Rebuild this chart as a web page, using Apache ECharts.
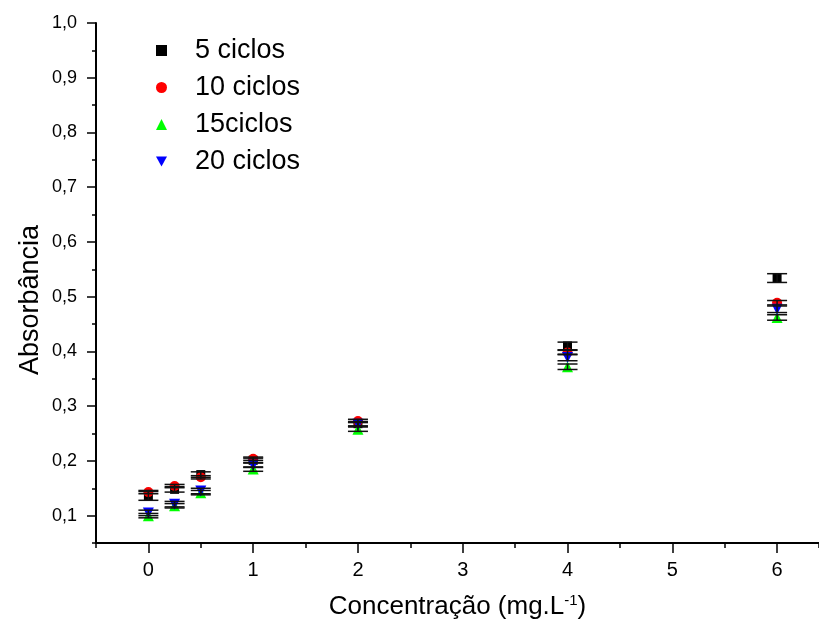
<!DOCTYPE html>
<html>
<head>
<meta charset="utf-8">
<script src="https://cdn.jsdelivr.net/npm/echarts@6/dist/echarts.min.js"></script>
<style>
  html, body { margin: 0; padding: 0; background: #fff; }
  #chart { width: 819px; height: 633px; }
</style>
</head>
<body>
<div id="chart"></div>
<script>
// concentration (mg/L) and absorbance readings
const conc = [0, 0.25, 0.5, 1, 2, 4, 6];
const abs5 = [0.136, 0.148, 0.175, 0.201, 0.268, 0.410, 0.534];
const abs10 = [0.143, 0.154, 0.170, 0.204, 0.273, 0.398, 0.489];
const abs15 = [0.100, 0.118, 0.142, 0.185, 0.258, 0.372, 0.462];
const abs20 = [0.105, 0.121, 0.145, 0.192, 0.267, 0.389, 0.477];
// error (+/-)
const err5 = [0.008, 0.005, 0.005, 0.004, 0.004, 0.007, 0.008];
const err10 = [0.003, 0.003, 0.003, 0.003, 0.003, 0.004, 0.004];
const err15 = [0.004, 0.004, 0.004, 0.004, 0.004, 0.005, 0.005];
const err20 = [0.005, 0.005, 0.005, 0.004, 0.004, 0.006, 0.006];

const xTicks = [0, 1, 2, 3, 4, 5, 6];
const yTicks = [0.1, 0.2, 0.3, 0.4, 0.5, 0.6, 0.7, 0.8, 0.9, 1.0];
const names = ['5 ciclos', '10 ciclos', '15ciclos', '20 ciclos'];

const chart = echarts.init(document.getElementById('chart'));

function pts(ys) {
  return conc.map((x, i) => [x, ys[i]]);
}
function errPts(ys, es) {
  return conc.map((x, i) => [x, ys[i] - es[i], ys[i] + es[i]]);
}

function errSeries(ys, es) {
  return {
    type: 'custom',
    silent: true,
    z: 10,
    data: errPts(ys, es),
    renderItem: function (params, api) {
      const x = api.value(0);
      const lo = api.coord([x, api.value(1)]);
      const hi = api.coord([x, api.value(2)]);
      const hw = 10;
      const st = { stroke: '#111', lineWidth: 1.5 };
      return {
        type: 'group',
        children: [
          { type: 'line', shape: { x1: lo[0], y1: lo[1], x2: hi[0], y2: hi[1] }, style: st },
          { type: 'line', shape: { x1: lo[0] - hw, y1: lo[1], x2: lo[0] + hw, y2: lo[1] }, style: st },
          { type: 'line', shape: { x1: hi[0] - hw, y1: hi[1], x2: hi[0] + hw, y2: hi[1] }, style: st }
        ]
      };
    }
  };
}

const fmtY = v => v.toFixed(1).replace('.', ',');

const option = {
  backgroundColor: '#ffffff',
  animation: false,
  grid: { left: 96, top: 23, right: -2, bottom: 90 },
  legend: {
    orient: 'vertical',
    left: 151,
    top: 32,
    itemWidth: 11,
    itemHeight: 11,
    itemGap: 10,
    data: names,
    textStyle: { fontFamily: 'Liberation Sans', fontSize: 27, color: '#000', padding: [0, 0, 0, 23] }
  },
  xAxis: [{
    type: 'value',
    min: -0.5,
    max: 6.4,
    interval: 0.5,
    name: '{t|Concentração (mg.L}{s|-1}{t|)}',
    nameLocation: 'middle',
    nameGap: 50,
    nameTextStyle: {
      rich: {
        t: { fontFamily: 'Liberation Sans', fontSize: 26, color: '#000' },
        s: { fontFamily: 'Liberation Sans', fontSize: 15, color: '#000', verticalAlign: 'top', padding: [0, 0, 12, 0] }
      }
    },
    axisLine: { onZero: false, lineStyle: { color: '#000', width: 2 } },
    axisTick: { length: 5, lineStyle: { color: '#000', width: 1.5 } },
    axisLabel: { show: false },
    splitLine: { show: false }
  }, {
    type: 'value',
    min: -0.5,
    max: 6.4,
    position: 'bottom',
    axisLine: { show: false, onZero: false },
    axisTick: { customValues: xTicks, length: 10, lineStyle: { color: '#000', width: 1.5 } },
    axisLabel: { customValues: xTicks, fontFamily: 'Liberation Sans', fontSize: 20, color: '#000', margin: 17 },
    splitLine: { show: false }
  }],
  yAxis: [{
    type: 'value',
    min: 0.05,
    max: 1.0,
    interval: 0.05,
    position: 'left',
    name: 'Absorbância',
    nameLocation: 'middle',
    nameGap: 52,
    nameTextStyle: { fontFamily: 'Liberation Sans', fontSize: 27, color: '#000', padding: [0, 34, 0, 0] },
    axisLine: { onZero: false, lineStyle: { color: '#000', width: 2 } },
    axisTick: { length: 4, lineStyle: { color: '#000', width: 1.5 } },
    axisLabel: { show: false },
    splitLine: { show: false }
  }, {
    type: 'value',
    min: 0.05,
    max: 1.0,
    position: 'left',
    axisLine: { show: false, onZero: false },
    axisTick: { customValues: yTicks, length: 9, lineStyle: { color: '#000', width: 1.5 } },
    axisLabel: { customValues: yTicks, formatter: fmtY, fontFamily: 'Liberation Sans', fontSize: 18, color: '#000', margin: 19 },
    splitLine: { show: false }
  }],
  series: [
    { name: names[0], type: 'scatter', symbol: 'rect', symbolSize: 9, itemStyle: { color: '#000000', opacity: 1 }, data: pts(abs5) },
    { name: names[1], type: 'scatter', symbol: 'circle', symbolSize: 10, itemStyle: { color: '#ff0000', opacity: 1 }, data: pts(abs10) },
    { name: names[2], type: 'scatter', symbol: 'triangle', symbolSize: 11, itemStyle: { color: '#00ff00', opacity: 1 }, data: pts(abs15) },
    { name: names[3], type: 'scatter', symbol: 'path://M0,0 L10,0 L5,9 Z', symbolSize: 11, itemStyle: { color: '#0000ff', opacity: 1 }, data: pts(abs20) },
    errSeries(abs5, err5),
    errSeries(abs10, err10),
    errSeries(abs15, err15),
    errSeries(abs20, err20)
  ]
};

chart.setOption(option);
</script>
</body>
</html>
